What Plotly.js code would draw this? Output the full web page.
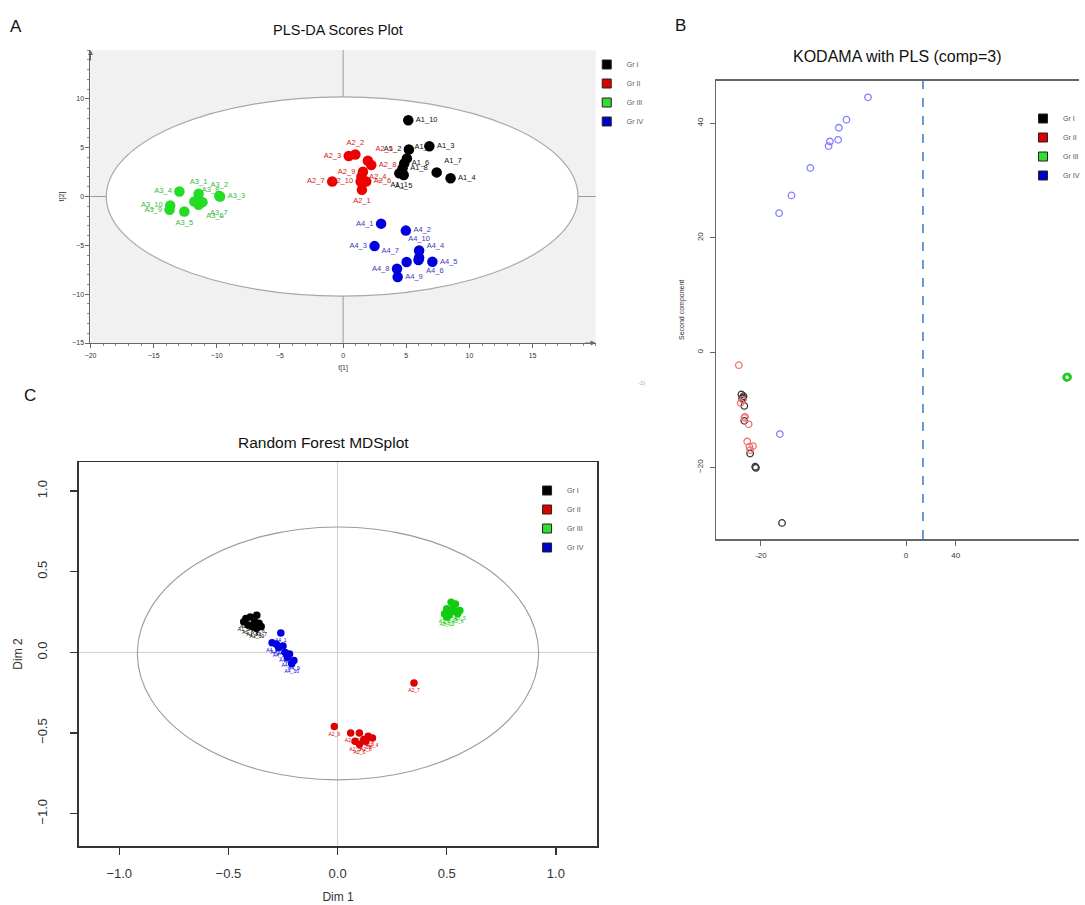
<!DOCTYPE html>
<html><head><meta charset="utf-8">
<script src="https://cdn.plot.ly/plotly-3.0.1.min.js"></script>
<style>html,body{margin:0;padding:0;background:#fff;overflow:hidden}</style>
</head><body><div id="chart" style="width:1085px;height:905px"></div>
<script>
// ---------- shared ----------
const groupNames = ['Gr I', 'Gr II', 'Gr III', 'Gr IV'];

// ---------- Panel A: PLS-DA scores (t[1], t[2]) ----------
const plsLabI  = ['A1_1','A1_2','A1_3','A1_4','A1_5','A1_6','A1_7','A1_8','A1_9','A1_10'];
const plsT1_I  = [4.45, 5.21, 6.83, 8.51, 4.80, 4.84, 7.41, 4.71, 5.05, 5.16];
const plsT2_I  = [2.37, 4.81, 5.15, 1.86, 2.20, 3.39, 2.47, 2.88, 3.90, 7.80];
const plsLabII = ['A2_1','A2_2','A2_3','A2_4','A2_5','A2_6','A2_7','A2_8','A2_9','A2_10'];
const plsT1_II = [1.49, 0.97, 0.45, 1.45, 1.96, 1.83, -0.86, 2.23, 1.57, 1.39];
const plsT2_II = [0.68, 4.30, 4.15, 2.03, 3.66, 1.53, 1.53, 3.22, 2.54, 1.53];
const plsLabIII = ['A3_1','A3_2','A3_3','A3_4','A3_5','A3_6','A3_7','A3_8','A3_9','A3_10'];
const plsT1_III = [-11.44, -9.80, -9.74, -12.96, -12.57, -11.44, -11.13, -11.78, -13.74, -13.69];
const plsT2_III = [0.27, 0.05, 0.00, 0.51, -1.53, -0.85, -0.58, -0.51, -1.36, -0.92];
const plsLabIV = ['A4_1','A4_2','A4_3','A4_4','A4_5','A4_6','A4_7','A4_8','A4_9','A4_10'];
const plsT1_IV = [3.01, 4.97, 2.49, 6.02, 7.07, 5.97, 5.03, 4.27, 4.32, 6.02];
const plsT2_IV = [-2.78, -3.49, -5.08, -6.27, -6.68, -6.51, -6.71, -7.39, -8.24, -5.53];
const plsXTicks = [-20, -15, -10, -5, 0, 5, 10, 15];
const plsYTicks = [-15, -10, -5, 0, 5, 10];
// label placement (style)
const posI   = ['bottom center','middle left','middle right','middle right','bottom center','middle right','top right','middle right','top right','middle right'];
const posII  = ['bottom center','top center','middle left','middle right','top right','middle right','middle left','middle right','middle left','middle left'];
const posIII = ['top center','top center','middle right','middle left','bottom center','bottom right','bottom right','top right','middle left','middle left'];
const posIV  = ['middle left','middle right','middle left','top right','middle right','bottom right','top left','middle left','middle right','top center'];

// ---------- Panel B: KODAMA with PLS ----------
const kodX_I   = [-22.7, -22.4, -22.6, -22.3, -22.3, -21.5, -20.8, -20.7, -17.1, -22.5];
const kodY_I   = [-7.3, -7.6, -8.0, -9.3, -11.9, -17.6, -19.9, -20.1, -29.7, -7.9];
const kodX_II  = [-23.06, -22.8, -22.5, -22.2, -21.7, -21.9, -21.6, -21.1, -21.5, -22.3];
const kodY_II  = [-2.2, -8.8, -8.2, -11.2, -12.5, -15.5, -16.4, -16.3, -17.0, -11.4];
const kodX_III = [22.2, 22.3, 22.1, 22.2, 22.25, 22.15, 22.2, 22.3, 22.1, 22.2];
const kodY_III = [-4.3, -4.2, -4.35, -4.25, -4.3, -4.4, -4.2, -4.3, -4.25, -4.35];
const kodX_IV  = [-5.25, -8.22, -9.27, -9.36, -10.5, -10.68, -13.2, -15.8, -17.5, -17.4];
const kodY_IV  = [44.5, 40.6, 39.2, 37.1, 36.8, 36.0, 32.2, 27.4, 24.3, -14.2];
const kodCut = 2.33;                       // dashed vertical line position
const kodXTickVals = [-20, 0, 6.85];
const kodXTickText = ['-20', '0', '40'];   // as printed in the source figure
const kodYTicks = [-20, 0, 20, 40];

// ---------- Panel C: Random Forest MDS ----------
const mdsLabI  = ['A1_1','A1_2','A1_3','A1_4','A1_5','A1_6','A1_7','A1_8','A1_9','A1_10'];
const mdsX_I   = [-0.42, -0.40, -0.37, -0.38, -0.41, -0.36, -0.35, -0.39, -0.43, -0.37];
const mdsY_I   = [0.21, 0.22, 0.23, 0.19, 0.17, 0.18, 0.16, 0.16, 0.19, 0.15];
const mdsLabII = ['A2_1','A2_2','A2_3','A2_4','A2_5','A2_6','A2_7','A2_8','A2_9','A2_10'];
const mdsX_II  = [0.06, 0.10, 0.14, 0.16, 0.08, 0.10, 0.35, 0.13, -0.015, 0.12];
const mdsY_II  = [-0.50, -0.50, -0.52, -0.53, -0.55, -0.57, -0.19, -0.55, -0.46, -0.54];
const mdsLabIII = ['A3_1','A3_2','A3_3','A3_4','A3_5','A3_6','A3_7','A3_8','A3_9','A3_10'];
const mdsX_III = [0.52, 0.54, 0.50, 0.53, 0.56, 0.49, 0.51, 0.55, 0.52, 0.50];
const mdsY_III = [0.31, 0.30, 0.27, 0.27, 0.26, 0.24, 0.23, 0.24, 0.25, 0.22];
const mdsLabIV = ['A4_1','A4_2','A4_3','A4_4','A4_5','A4_6','A4_7','A4_8','A4_9','A4_10'];
const mdsX_IV  = [-0.26, -0.30, -0.28, -0.25, -0.27, -0.24, -0.22, -0.23, -0.20, -0.21];
const mdsY_IV  = [0.12, 0.06, 0.05, 0.04, 0.03, 0.00, -0.01, -0.03, -0.05, -0.07];
const mdsTicks = [-1.0, -0.5, 0.0, 0.5, 1.0];

// ---------- styles ----------
const FONT = 'Liberation Sans, Arial, sans-serif';
const colA = ['#000000', '#ee0000', '#22dd22', '#0000dd'];
const labColA = ['#111111', '#d42020', '#3cb83c', '#3a3ac0'];
const colB = ['#333333', '#ee7272', '#22cc22', '#7f7fff'];
const colC = ['#000000', '#e00000', '#11cc11', '#0000e0'];
const legSwatch = ['#000000', '#dd0000', '#33dd33', '#0000cc'];

const W = 1085, H = 905;
const px = v => v / W;
const py = v => 1 - v / H;

const traces = [];

// Panel A traces
[[plsT1_I, plsT2_I, plsLabI, posI], [plsT1_II, plsT2_II, plsLabII, posII],
 [plsT1_III, plsT2_III, plsLabIII, posIII], [plsT1_IV, plsT2_IV, plsLabIV, posIV]].forEach((g, i) => {
  traces.push({
    type: 'scatter', mode: 'markers+text', xaxis: 'x', yaxis: 'y',
    x: g[0], y: g[1], text: g[2], textposition: g[3],
    textfont: {family: FONT, size: 7.5, color: labColA[i]},
    marker: {color: colA[i], size: 10.5, line: {width: 0}},
    name: groupNames[i], showlegend: false, cliponaxis: false
  });
});

// Panel B traces
[[kodX_I, kodY_I], [kodX_II, kodY_II], [kodX_III, kodY_III], [kodX_IV, kodY_IV]].forEach((g, i) => {
  traces.push({
    type: 'scatter', mode: 'markers', xaxis: 'x2', yaxis: 'y2',
    x: g[0], y: g[1],
    marker: {symbol: 'circle-open', color: colB[i], size: 6.5, line: {width: 1.3}},
    name: groupNames[i], showlegend: false
  });
});

// Panel C traces
[[mdsX_I, mdsY_I, mdsLabI], [mdsX_II, mdsY_II, mdsLabII],
 [mdsX_III, mdsY_III, mdsLabIII], [mdsX_IV, mdsY_IV, mdsLabIV]].forEach((g, i) => {
  traces.push({
    type: 'scatter', mode: 'markers+text', xaxis: 'x3', yaxis: 'y3',
    x: g[0], y: g[1], text: g[2], textposition: 'bottom center',
    textfont: {family: FONT, size: 5, color: colC[i]},
    marker: {color: colC[i], size: 7.5, line: {width: 0}},
    name: groupNames[i], showlegend: false
  });
});

// legend-only entries (one legend per panel)
['legend', 'legend2', 'legend3'].forEach((lg, k) => {
  const ax = ['x', 'x2', 'x3'][k], ay = ['y', 'y2', 'y3'][k];
  groupNames.forEach((n, i) => {
    traces.push({
      type: 'scatter', mode: 'markers', xaxis: ax, yaxis: ay, x: [null], y: [null],
      name: n, legend: lg, showlegend: true,
      marker: {symbol: 'square', size: 9, color: legSwatch[i], line: {width: 1, color: '#222'}}
    });
  });
});

const legBase = {bgcolor: 'rgba(0,0,0,0)', borderwidth: 0, xanchor: 'left', yanchor: 'top',
                 font: {family: FONT, size: 7, color: '#555'}, itemclick: false, itemdoubleclick: false};

const smallTick = {family: FONT, size: 7, color: '#333'};

function note(text, x, y, size, color) {
  return {text: text, x: px(x), y: py(y), xref: 'paper', yref: 'paper', xanchor: 'center', yanchor: 'middle',
          showarrow: false, font: {family: FONT, size: size, color: color || '#111'}};
}

const layout = {
  width: W, height: H, margin: {l: 0, r: 0, t: 0, b: 0},
  paper_bgcolor: '#ffffff', plot_bgcolor: 'rgba(0,0,0,0)',
  font: {family: FONT},
  showlegend: true,
  legend:  Object.assign({}, legBase, {x: px(590), y: py(50)}),
  legend2: Object.assign({}, legBase, {x: px(1029), y: py(104)}),
  legend3: Object.assign({}, legBase, {x: px(530), y: py(476)}),

  // Panel A axes
  xaxis: {domain: [px(91), px(599)], anchor: 'y', range: [-20, 20],
    showline: true, linecolor: '#666', linewidth: 1, mirror: false,
    showgrid: false, zeroline: false, ticks: 'outside', ticklen: 4, tickcolor: '#666',
    tickvals: plsXTicks, tickfont: smallTick, ticklabelstandoff: 2,
    minor: {ticks: 'outside', ticklen: 2, dtick: 1, tickcolor: '#888', showgrid: false},
    title: {text: 't[1]', font: {family: FONT, size: 7, color: '#333'}, standoff: 6}},
  yaxis: {domain: [py(343), py(50)], anchor: 'x', range: [-15, 15],
    showline: true, linecolor: '#666', linewidth: 1,
    showgrid: false, zeroline: false, ticks: 'outside', ticklen: 4, tickcolor: '#666',
    tickvals: plsYTicks, tickfont: smallTick,
    minor: {ticks: 'outside', ticklen: 2, dtick: 1, tickcolor: '#888', showgrid: false},
    title: {text: 't[2]', font: {family: FONT, size: 7, color: '#333'}, standoff: 6}},

  // Panel B axes
  xaxis2: {domain: [px(720), 1], anchor: 'y2', range: [-26.2, 23.84],
    showline: true, mirror: true, linecolor: '#666', linewidth: 1.5,
    showgrid: false, zeroline: false, ticks: 'outside', ticklen: 5, tickcolor: '#666',
    tickvals: kodXTickVals, ticktext: kodXTickText, ticklabelstandoff: 3,
    tickfont: {family: FONT, size: 8, color: '#333'}},
  yaxis2: {domain: [py(539), py(80.7)], anchor: 'x2', range: [-32.5, 47.4],
    showline: true, linecolor: '#666', linewidth: 1.5,
    showgrid: false, zeroline: false, ticks: 'outside', ticklen: 5, tickcolor: '#666',
    tickvals: kodYTicks, tickangle: -90, tickfont: {family: FONT, size: 8, color: '#333'},
    ticklabelstandoff: 3,
    title: {text: 'Second component', font: {family: FONT, size: 7, color: '#333'}, standoff: 11}},

  // Panel C axes
  xaxis3: {domain: [px(79.3), px(600.7)], anchor: 'y3', range: [-1.185, 1.19],
    showline: true, mirror: true, linecolor: '#333', linewidth: 1.5,
    showgrid: false, zeroline: false, ticks: 'outside', ticklen: 7, tickwidth: 1.3, tickcolor: '#333',
    tickvals: mdsTicks, tickformat: '.1f', tickfont: {family: FONT, size: 13, color: '#333'},
    ticklabelstandoff: 8,
    title: {text: 'Dim 1', font: {family: FONT, size: 12, color: '#333'}, standoff: 12}},
  yaxis3: {domain: [py(846), py(462)], anchor: 'x3', range: [-1.2, 1.18],
    showline: true, mirror: true, linecolor: '#333', linewidth: 1.5,
    showgrid: false, zeroline: false, ticks: 'outside', ticklen: 7, tickwidth: 1.3, tickcolor: '#333',
    tickvals: mdsTicks, tickformat: '.1f', tickangle: -90, tickfont: {family: FONT, size: 13, color: '#333'},
    ticklabelstandoff: 18,
    title: {text: 'Dim 2', font: {family: FONT, size: 12, color: '#333'}, standoff: 10}},

  shapes: [
    // Panel A background + confidence ellipse + crosshair
    {type: 'rect', xref: 'x domain', yref: 'y domain', x0: 0, x1: 1, y0: 0, y1: 1,
     fillcolor: '#f1f1f1', line: {width: 0}, layer: 'below'},
    {type: 'circle', xref: 'x', yref: 'y', x0: -18.75, x1: 18.6, y0: -10.2, y1: 10.2,
     fillcolor: '#ffffff', line: {color: '#a8a8a8', width: 1.2}, layer: 'below'},
    {type: 'line', xref: 'x', yref: 'y domain', x0: 0, x1: 0, y0: 0, y1: 1, line: {color: '#9a9a9a', width: 1}, layer: 'below'},
    {type: 'line', xref: 'x domain', yref: 'y', x0: 0, x1: 1, y0: 0, y1: 0, line: {color: '#9a9a9a', width: 1}, layer: 'below'},
    // Panel B dashed cut line
    {type: 'line', xref: 'x2', yref: 'y2 domain', x0: kodCut, x1: kodCut, y0: 0, y1: 1,
     line: {color: '#4a80c4', width: 1.6, dash: 'dash'}},
    // Panel C ellipse + crosshair
    {type: 'circle', xref: 'x3', yref: 'y3', x0: -0.917, x1: 0.921, y0: -0.79, y1: 0.777,
     line: {color: '#9c9c9c', width: 1.1}, layer: 'below'},
    {type: 'line', xref: 'x3', yref: 'y3 domain', x0: 0, x1: 0, y0: 0, y1: 1, line: {color: '#cfcfcf', width: 1}, layer: 'below'},
    {type: 'line', xref: 'x3 domain', yref: 'y3', x0: 0, x1: 1, y0: 0, y1: 0, line: {color: '#cfcfcf', width: 1}, layer: 'below'}
  ],

  annotations: [
    note('A', 16, 27, 17),
    note('B', 684, 26, 17),
    note('C', 30, 395, 17),
    note('PLS-DA Scores Plot', 340, 30, 14.5),
    note('KODAMA with PLS (comp=3)', 902, 57, 16),
    note('Random Forest MDSplot', 325, 442, 15.5),
    note('-2)', 645, 383, 6, '#aaa'),
    // axis arrows for panel A
    {text: '', xref: 'x domain', yref: 'y domain', x: 1.0, y: 0, ax: -12, ay: 0, showarrow: true, arrowhead: 2, arrowsize: 1, arrowwidth: 1, arrowcolor: '#666'},
    {text: '', xref: 'x domain', yref: 'y domain', x: 0, y: 1.0, ax: 0, ay: 12, showarrow: true, arrowhead: 2, arrowsize: 1, arrowwidth: 1, arrowcolor: '#666'}
  ]
};

Plotly.newPlot('chart', traces, layout, {displayModeBar: false, staticPlot: true});
</script></body></html>
